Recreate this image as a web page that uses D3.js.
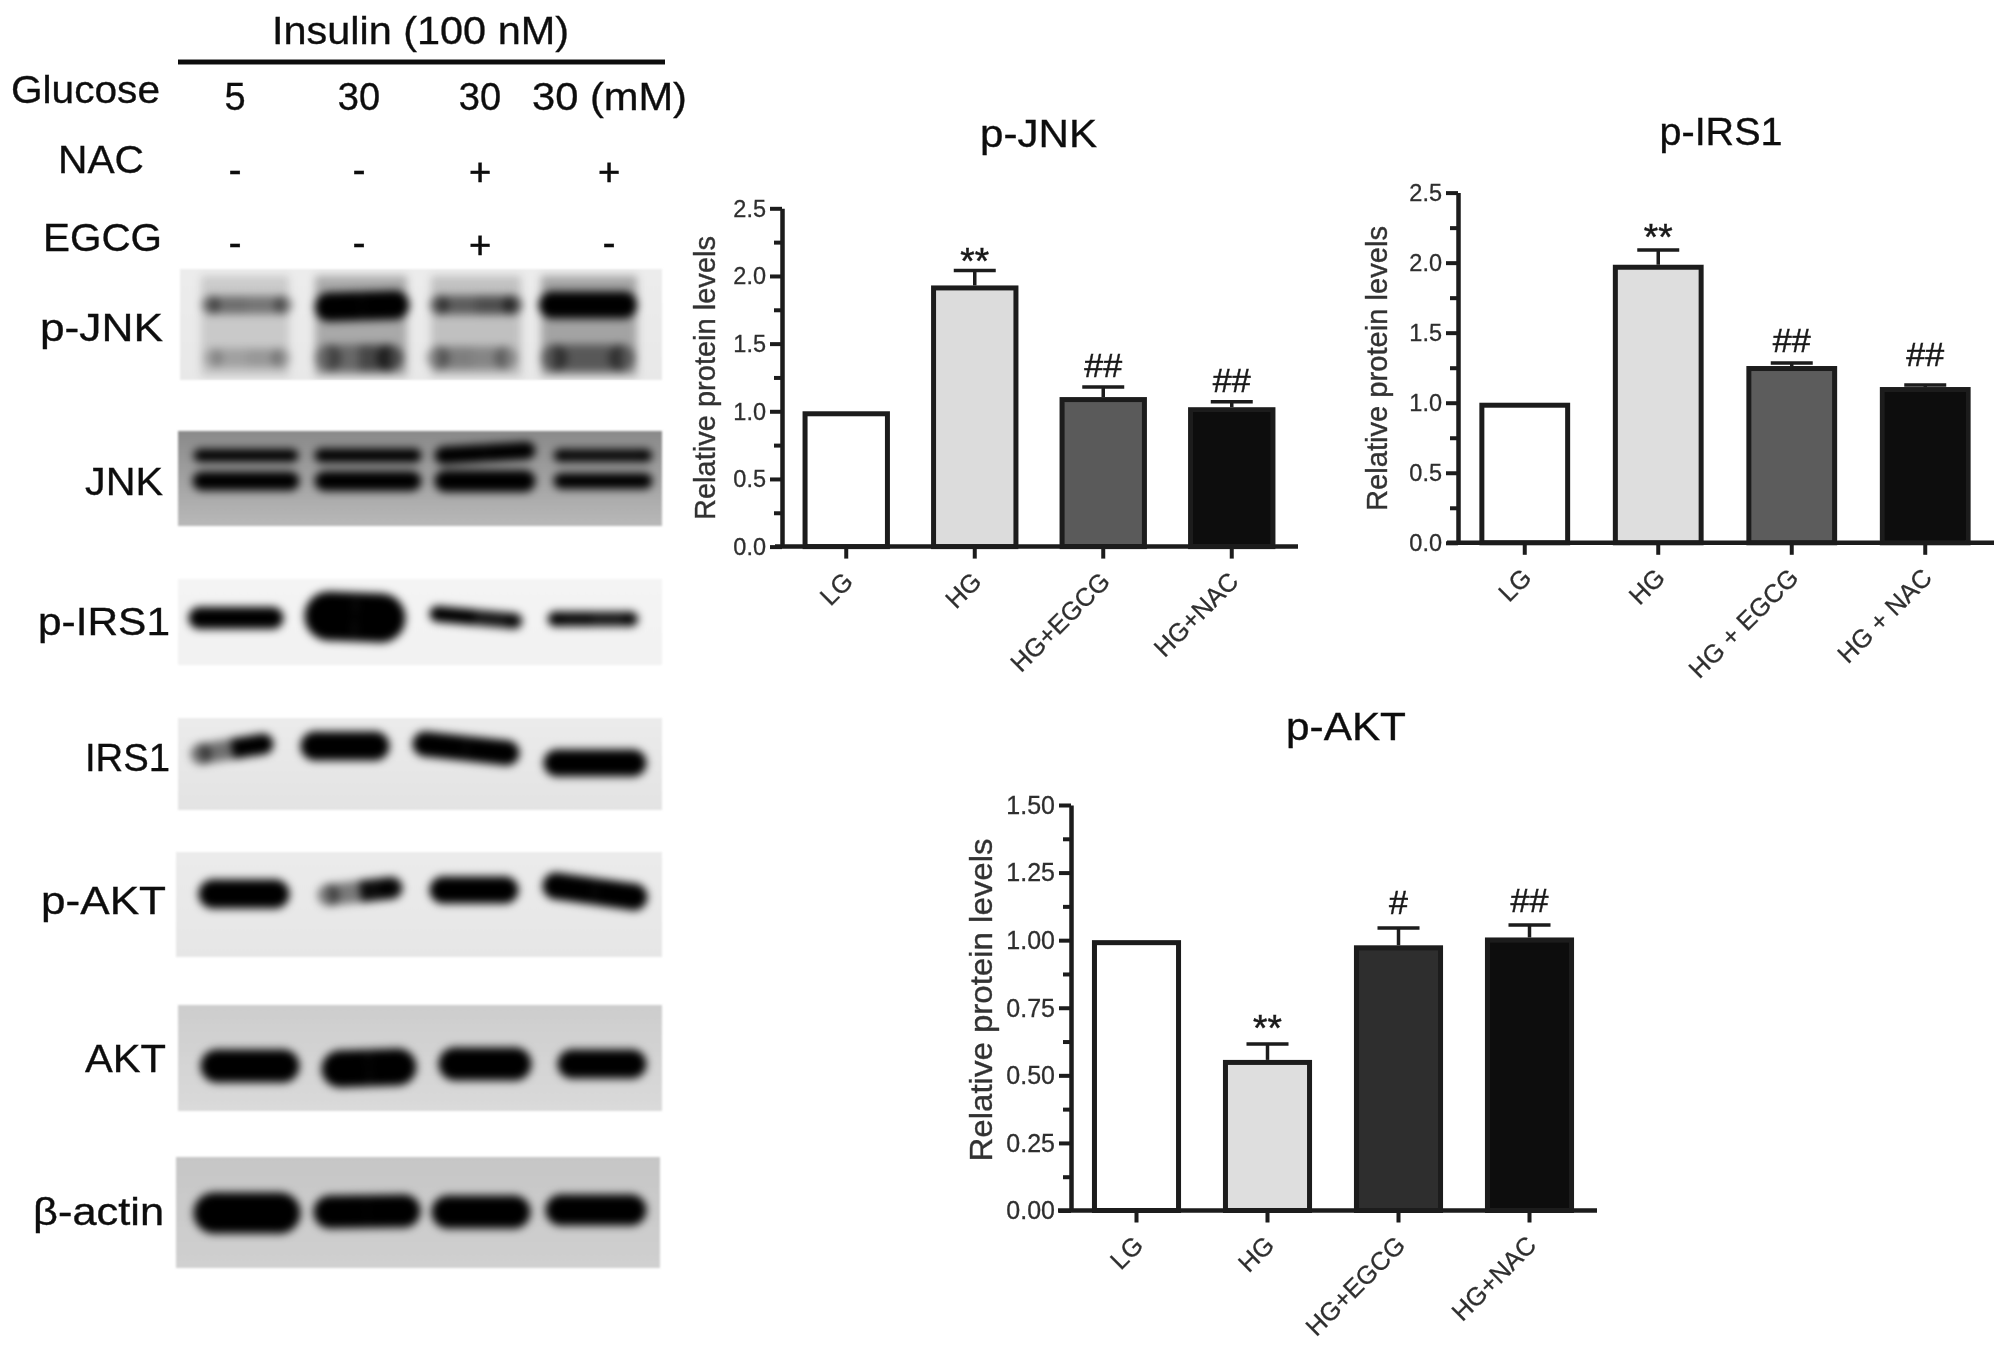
<!DOCTYPE html>
<html><head><meta charset="utf-8">
<script src="https://cdn.jsdelivr.net/npm/d3@7"></script>
<style>html,body{margin:0;background:#fff}svg{display:block}text{font-family:"Liberation Sans",Arial,sans-serif}</style>
</head><body><svg id="c" width="2008" height="1361"></svg>
<script>
// ---------- chart data ----------
const categoriesJNK = ["LG","HG","HG+EGCG","HG+NAC"];
const categoriesIRS = ["LG","HG","HG + EGCG","HG + NAC"];
const categoriesAKT = ["LG","HG","HG+EGCG","HG+NAC"];
const valuesJNK = [1.0,1.93,1.105,1.03];
const capsJNK   = [null,2.04,1.18,1.07];
const signsJNK  = [null,"**","##","##"];
const signPosJNK= [null,2.014,1.25,1.145];
const valuesIRS = [1.0,1.985,1.262,1.112];
const capsIRS   = [null,2.09,1.283,1.126];
const signsIRS  = [null,"**","##","##"];
const signPosIRS= [null,2.09,1.36,1.26];
const valuesAKT = [1.0,0.557,0.981,1.01];
const capsAKT   = [null,0.616,1.045,1.056];
const signsAKT  = [null,"**","#","##"];
const signPosAKT= [null,0.627,1.095,1.106];
const ticksJNK  = [0,0.5,1,1.5,2,2.5];
const ticksAKT  = [0,0.25,0.5,0.75,1,1.25,1.5];
const minorJNK  = [0.25,0.75,1.25,1.75,2.25];
const minorAKT  = [0.125,0.375,0.625,0.875,1.125,1.375];

// blot header
const glucose = ["5","30","30","30 (mM)"];
const nacRow  = ["-","-","+","+"];
const egcgRow = ["-","-","+","-"];

// blot band intensities, [left half, right half] per lane
const smearPJNK = [[.14,.14],[.28,.28],[.18,.18],[.30,.30]];
const upperPJNK = [[.45,.42],[1,1],[.52,.6],[1,1]];
const lowerPJNK = [[.20,.24],[.38,.58],[.34,.30],[.46,.46]];
const upperJNK  = [[1,1],[1,1],[1,1],[.95,.95]];
const lowerJNK  = [[1,1],[1,1],[1,1],[1,1]];
const bandPIRS  = [[1,1],[1,1],[1,.9],[.95,.9]];
const bandIRS   = [[.52,1],[1,1],[1,1],[1,1]];
const bandPAKT  = [[1,1],[.48,.95],[1,1],[1,1]];
const bandAKT   = [[1,1],[1,1],[1,1],[1,1]];
const bandActin = [[1,1],[1,1],[1,1],[1,1]];

// ---------- layout ----------
const svg = d3.select("#c");
const defs = svg.append("defs");
const blur = (id,s)=>defs.append("filter").attr("id",id).attr("filterUnits","userSpaceOnUse")
  .attr("x",0).attr("y",0).attr("width",2008).attr("height",1361)
  .append("feGaussianBlur").attr("stdDeviation",s);
blur("soft",0.6); blur("bandBlur",4.2); blur("edge",1.3);

const laneX = d3.scalePoint().domain([0,1,2,3]).range([245,596]);
const ink = "#1c1c1c", tickInk = "#2e2e2e";

// header
const head = svg.append("g").attr("filter","url(#soft)").attr("fill","#111");
function label(g,t,x,y,size,width,anchor){
  const e = g.append("text").attr("x",x).attr("y",y).attr("font-size",size)
    .attr("text-anchor",anchor||"start").attr("stroke","#111").attr("stroke-width",.35).text(t);
  if(width) e.attr("textLength",width).attr("lengthAdjust","spacingAndGlyphs");
  return e;
}
label(head,"Insulin (100 nM)",272,43.5,38,297);
head.append("line").attr("x1",178).attr("x2",665).attr("y1",62).attr("y2",62)
  .attr("stroke","#111").attr("stroke-width",5);
label(head,"Glucose",11,103,39,149);
label(head,"NAC",58,173,39,86);
label(head,"EGCG",43,251,39,119);
head.selectAll(".glu").data(glucose).join("text").attr("class","glu")
  .attr("font-size",38).attr("y",110).attr("stroke","#111").attr("stroke-width",.35)
  .attr("x",(d,i)=> i<3 ? [235,359,480][i] : 532)
  .attr("text-anchor",(d,i)=> i<3?"middle":"start")
  .attr("textLength",(d,i)=> i<3?null:155).attr("lengthAdjust","spacingAndGlyphs")
  .text(d=>d);
const signX = [235,359,480,609];
function signs(arr,cy){
  head.selectAll(null).data(arr).join("text").attr("font-size",38).attr("text-anchor","middle")
    .attr("stroke","#111").attr("stroke-width",.6)
    .attr("x",(d,i)=>signX[i]).attr("y",d=>cy+(d==="+"?13:11)).text(d=>d);
}
signs(nacRow,172); signs(egcgRow,245);

// blot panels
const panels = [
 {name:"p-JNK",lx:40,lw:123,ly:341,y0:269,y1:380,x0:180,x1:662,bg:["#ececec","#e8e8e8"],rows:[
   {v:smearPJNK,cy:326,b:[[0,88,100],[-1,92,100],[-3,90,100],[-7,96,100]]},
   {v:upperPJNK,cy:305,b:[[2,82,15],[0,86,26,2],[-3,84,16],[-8,90,24]]},
   {v:lowerPJNK,cy:358,b:[[2,78,16],[-3,80,24],[-7,82,20],[-8,86,24]]}]},
 {name:"JNK",lx:85,lw:78,ly:494.5,y0:431,y1:526,x0:178,x1:662,bg:["#8a8a8a","#b9b9b9"],rows:[
   {v:upperJNK,cy:455.5,b:[[1,96,10],[6,98,11],[6,92,15,0,-5],[7,90,10]]},
   {v:lowerJNK,cy:481,b:[[1,98,16],[6,98,17],[6,92,19],[7,90,13]]}]},
 {name:"p-IRS1",lx:38,lw:132,ly:635,y0:579,y1:665,x0:178,x1:662,bg:["#f4f4f4","#f2f2f2"],rows:[
   {v:bandPIRS,cy:618,b:[[-9,86,19],[-7,92,46,-2],[-3,84,13,-4,3],[-3,82,12,1,1]]}]},
 {name:"IRS1",lx:85,lw:85,ly:771,y0:718,y1:810,x0:178,x1:662,bg:["#ebebeb","#e3e3e3"],rows:[
   {v:bandIRS,cy:748,b:[[-13,74,18,6,-4],[-17,80,26,-2,-2],[-13,98,22,-4,5],[-1,94,24,15,15]]}]},
 {name:"p-AKT",lx:41,lw:125,ly:913.6,y0:852,y1:957,x0:176,x1:662,bg:["#ebebeb","#e6e6e6"],rows:[
   {v:bandPAKT,cy:891,b:[[-1,82,26,3,3],[-2,76,19,4,-3],[-5,80,24,-1,-1],[-1,96,24,-5,6]]}]},
 {name:"AKT",lx:85,lw:81,ly:1071.6,y0:1005,y1:1111,x0:178,x1:662,bg:["#cdcdcd","#dadada"],rows:[
   {v:bandAKT,cy:1065,b:[[5,90,30,1,1],[7,86,34,4,2],[6,84,30,-1,-1],[6,80,26,-1,-1]]}]},
 {name:"β-actin",lx:33,lw:131,ly:1225,y0:1157,y1:1268,x0:176,x1:660,bg:["#c6c6c6","#d0d0d0"],rows:[
   {v:bandActin,cy:1212,b:[[2,98,38,1,1],[5,98,30,0,-1],[2,90,30,0,0],[0,92,28,-2,-2]]}]}
];
const blots = svg.append("g");
panels.forEach((p,pi)=>{
  const gid="bg"+pi, cid="clip"+pi;
  const lg=defs.append("linearGradient").attr("id",gid).attr("x1",0).attr("x2",0).attr("y1",0).attr("y2",1);
  lg.append("stop").attr("offset",0).attr("stop-color",p.bg[0]);
  lg.append("stop").attr("offset",1).attr("stop-color",p.bg[1]);
  defs.append("clipPath").attr("id",cid).append("rect")
    .attr("x",p.x0).attr("y",p.y0).attr("width",p.x1-p.x0).attr("height",p.y1-p.y0);
  const g=blots.append("g");
  g.append("rect").attr("x",p.x0).attr("y",p.y0).attr("width",p.x1-p.x0).attr("height",p.y1-p.y0)
    .attr("fill",`url(#${gid})`).attr("filter","url(#edge)");
  const inner=g.append("g").attr("clip-path",`url(#${cid})`).append("g").attr("filter","url(#bandBlur)");
  p.rows.forEach(r=>{
    r.v.forEach((iv,lane)=>{
      const [dx,w0,h0,dl=0,dr=0]=r.b[lane];
      const smear=h0>60;
      const w=smear?w0:w0+9, h=smear?h0:h0+3;
      const c=laneX(lane)+dx, half=smear?w/2:Math.max(4,w/2-h/2);
      const my=r.cy+(dl+dr)/2;
      inner.append("line").attr("x1",c-half).attr("x2",c).attr("y1",r.cy+dl).attr("y2",my)
        .attr("stroke","#000").attr("stroke-width",h).attr("opacity",iv[0]);
      inner.append("line").attr("x1",c).attr("x2",c+half).attr("y1",my).attr("y2",r.cy+dr)
        .attr("stroke","#000").attr("stroke-width",h).attr("opacity",iv[1]);
      if(!smear){
        inner.append("circle").attr("cx",c-half).attr("cy",r.cy+dl).attr("r",h/2).attr("fill","#000").attr("opacity",iv[0]);
        inner.append("circle").attr("cx",c+half).attr("cy",r.cy+dr).attr("r",h/2).attr("fill","#000").attr("opacity",iv[1]);
      }
    });
  });
  label(head,p.name,p.lx,p.ly,38,p.lw);
});

// bar charts
const charts = [
 {title:"p-JNK",tx:980,tw:117,ty:147,cats:categoriesJNK,vals:valuesJNK,caps:capsJNK,signs:signsJNK,sp:signPosJNK,
  ticks:ticksJNK,minor:minorJNK,max:2.5,fmt:d3.format(".1f"),ax:782,xEnd:1296,xStart:775,y0:546.6,yT:208.3,
  fills:["#ffffff","#dcdcdc","#5a5a5a","#0b0b0b"],tickSize:23.5,ytx:705,ytw:284,ytc:378,ytf:29},
 {title:"p-IRS1",tx:1659.5,tw:123,ty:145,cats:categoriesIRS,vals:valuesIRS,caps:capsIRS,signs:signsIRS,sp:signPosIRS,
  ticks:ticksJNK,minor:minorJNK,max:2.5,fmt:d3.format(".1f"),ax:1458,xEnd:1992,xStart:1447,y0:542.8,yT:192.6,
  fills:["#ffffff","#dedede","#5c5c5c","#0b0b0b"],tickSize:23.5,ytx:1377.5,ytw:285,ytc:368.5,ytf:29},
 {title:"p-AKT",tx:1286,tw:120,ty:740,cats:categoriesAKT,vals:valuesAKT,caps:capsAKT,signs:signsAKT,sp:signPosAKT,
  ticks:ticksAKT,minor:minorAKT,max:1.5,fmt:d3.format(".2f"),ax:1071,xEnd:1595,xStart:1058,y0:1210.5,yT:805,
  fills:["#ffffff","#dedede","#2e2e2e","#0b0b0b"],tickSize:25,ytx:981,ytw:323,ytc:1000,ytf:32}
];
charts.forEach(c=>{
  const g=svg.append("g").attr("filter","url(#soft)");
  const x=d3.scaleBand().domain(c.cats).range([c.ax,c.xEnd]).paddingInner(.32).paddingOuter(.16);
  const y=d3.scaleLinear().domain([0,c.max]).range([c.y0,c.yT]);
  label(g,c.title,c.tx,c.ty,38,c.tw).attr("fill","#111");
  const sw=5;
  const rows=c.cats.map((k,i)=>({k,v:c.vals[i],cap:c.caps[i],s:c.signs[i],sp:c.sp[i],f:c.fills[i]}));
  const ew=g.selectAll(".err").data(rows.filter(d=>d.cap!=null)).join("g").attr("class","err")
    .attr("stroke",ink).attr("stroke-width",3.5);
  ew.append("line").attr("x1",d=>x(d.k)+x.bandwidth()/2).attr("x2",d=>x(d.k)+x.bandwidth()/2)
    .attr("y1",d=>y(d.v)).attr("y2",d=>y(d.cap));
  ew.append("line").attr("x1",d=>x(d.k)+x.bandwidth()/2-21).attr("x2",d=>x(d.k)+x.bandwidth()/2+21)
    .attr("y1",d=>y(d.cap)).attr("y2",d=>y(d.cap));
  g.selectAll(".bar").data(rows).join("rect").attr("class","bar")
    .attr("x",d=>x(d.k)+sw/2).attr("width",x.bandwidth()-sw)
    .attr("y",d=>y(d.v)+sw/2).attr("height",d=>c.y0-y(d.v)-sw/2)
    .attr("fill",d=>d.f).attr("stroke",ink).attr("stroke-width",sw);
  g.selectAll(".sig").data(rows.filter(d=>d.s)).join("text").attr("class","sig")
    .attr("x",d=>x(d.k)+x.bandwidth()/2).attr("y",d=>y(d.sp))
    .attr("text-anchor","middle").attr("font-size",d=>d.s==="**"?37:34).attr("fill","#1a1a1a")
    .attr("stroke","#1a1a1a").attr("stroke-width",.5).text(d=>d.s);
  const ya=g.append("g").attr("transform",`translate(${c.ax},0)`)
    .call(d3.axisLeft(y).tickValues(c.ticks).tickFormat(c.fmt).tickSize(12).tickSizeOuter(0).tickPadding(4));
  ya.select(".domain").attr("stroke",ink).attr("stroke-width",4.5);
  ya.selectAll(".tick line").attr("stroke",ink).attr("stroke-width",4);
  ya.selectAll(".tick text").attr("font-size",c.tickSize).attr("fill",tickInk).attr("stroke",tickInk).attr("stroke-width",.3)
    .attr("font-family",'"Liberation Sans"').attr("dy","0.33em");
  const ym=g.append("g").attr("transform",`translate(${c.ax},0)`)
    .call(d3.axisLeft(y).tickValues(c.minor).tickFormat("").tickSize(8).tickSizeOuter(0));
  ym.select(".domain").remove();
  ym.selectAll(".tick line").attr("stroke",ink).attr("stroke-width",4);
  label(g,"Relative protein levels",0,0,c.ytf,c.ytw,"middle").attr("fill","#333").attr("stroke","#333")
    .attr("transform",`translate(${c.ytx+c.ytf*.33},${c.ytc}) rotate(-90)`);
  const xa=g.append("g").attr("transform",`translate(0,${c.y0})`)
    .call(d3.axisBottom(x).tickSize(12).tickSizeOuter(0));
  xa.select(".domain").remove();
  g.append("line").attr("x1",c.xStart).attr("x2",c.xEnd+2).attr("y1",c.y0).attr("y2",c.y0)
    .attr("stroke",ink).attr("stroke-width",4.5);
  xa.selectAll(".tick line").attr("stroke",ink).attr("stroke-width",4);
  xa.selectAll(".tick text").attr("font-size",25.5).attr("fill","#2e2e2e").attr("stroke","#2e2e2e").attr("stroke-width",.3)
    .attr("font-family",'"Liberation Sans"')
    .attr("text-anchor","end").attr("x",0).attr("y",0).attr("dy","0.35em")
    .attr("transform","translate(2,30) rotate(-45)");
});
</script></body></html>
